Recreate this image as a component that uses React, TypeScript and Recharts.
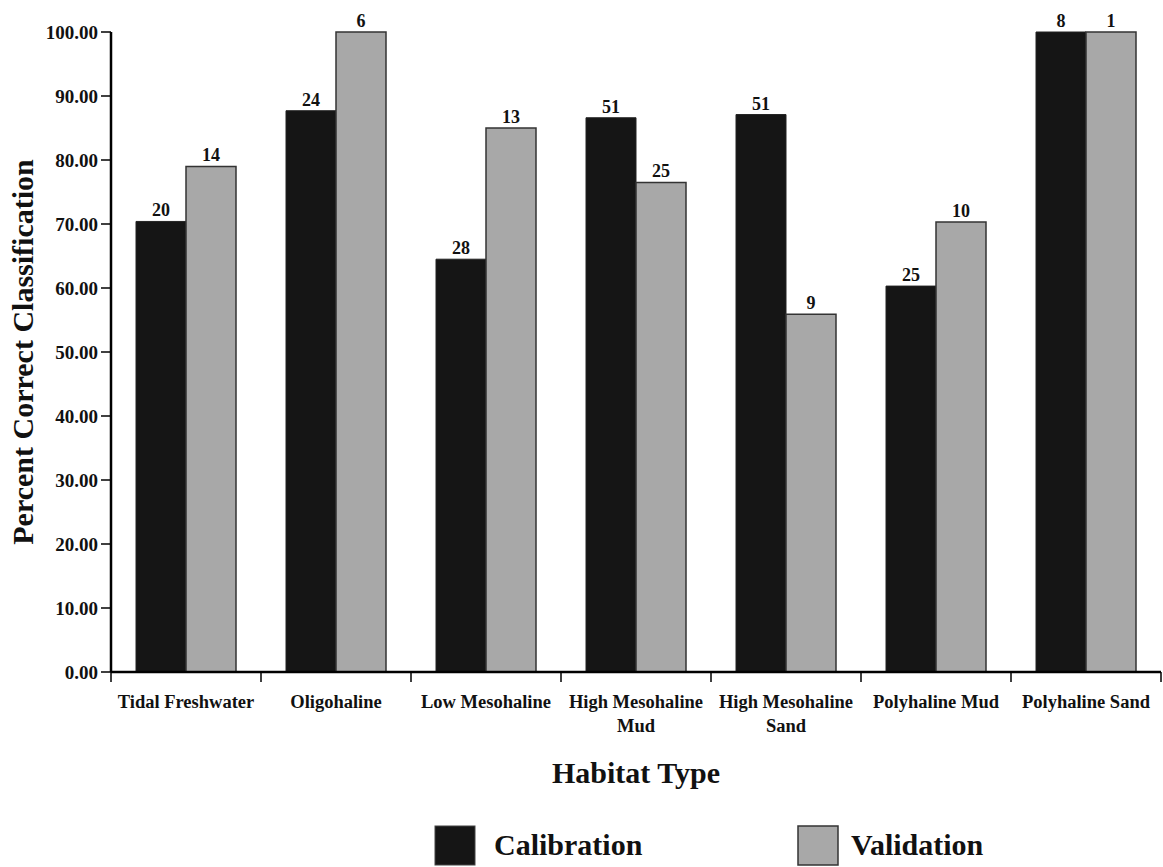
import React from "react";
import {
  BarChart,
  Bar,
  XAxis,
  YAxis,
  Legend,
  LabelList,
  Label,
} from "recharts";

// habitat categories ("\n" marks where the tick label wraps)
const categories = [
  "Tidal Freshwater",
  "Oligohaline",
  "Low Mesohaline",
  "High Mesohaline\nMud",
  "High Mesohaline\nSand",
  "Polyhaline Mud",
  "Polyhaline Sand",
];

// percent correct classification
const calibration = [70.4, 87.7, 64.5, 86.6, 87.1, 60.3, 100];
const validation = [79.0, 100, 85.0, 76.5, 55.9, 70.3, 100];

// sample sizes printed above the bars
const calibrationN = [20, 24, 28, 51, 51, 25, 8];
const validationN = [14, 6, 13, 25, 9, 10, 1];

const yTicks = [0, 10, 20, 30, 40, 50, 60, 70, 80, 90, 100];

const data = categories.map((name, i) => ({
  name,
  calibration: calibration[i],
  validation: validation[i],
  calN: calibrationN[i],
  valN: validationN[i],
}));

const FONT = "Liberation Serif, Times New Roman, Times, serif";
const CHART_W = 1163;
const CHART_H = 867;
const Y_AXIS_W = 111;
const MARGIN_R = 2;
const BAND = (CHART_W - Y_AXIS_W - MARGIN_R) / categories.length;

const CAL_FILL = "#151515";
const VAL_FILL = "#a8a8a8";

const textStyle = { fontFamily: FONT, fontWeight: 700 };

const CategoryTick = (props: any) => {
  const { x, y, payload, index } = props;
  const lines = String(payload.value).split("\n");
  const top = y - 10;
  return (
    <g>
      <line x1={x - BAND / 2} y1={top} x2={x - BAND / 2} y2={y} stroke="#000" strokeWidth={1.5} />
      {index === categories.length - 1 && (
        <line x1={x + BAND / 2} y1={top} x2={x + BAND / 2} y2={y} stroke="#000" strokeWidth={1.5} />
      )}
      <text x={x} y={y + 26} textAnchor="middle" style={textStyle} fontSize={18.5} fill="#111">
        {lines.map((l, i) => (
          <tspan key={i} x={x} dy={i === 0 ? 0 : 24}>
            {l}
          </tspan>
        ))}
      </text>
    </g>
  );
};

const YTitle = (props: any) => {
  const { viewBox } = props;
  const cx = viewBox.x + 33;
  const cy = viewBox.y + viewBox.height / 2;
  return (
    <text
      x={cx}
      y={cy}
      transform={`rotate(-90, ${cx}, ${cy})`}
      textAnchor="middle"
      style={textStyle}
      fontSize={30}
      fill="#111"
    >
      Percent Correct Classification
    </text>
  );
};

const XTitle = (props: any) => {
  const { viewBox } = props;
  const cx = viewBox.x + viewBox.width / 2;
  return (
    <text x={cx} y={783} textAnchor="middle" style={textStyle} fontSize={30} fill="#111">
      Habitat Type
    </text>
  );
};

const LegendBox = () => (
  <svg width={CHART_W - MARGIN_R} height={67} style={{ display: "block" }}>
    <rect x={435} y={26} width={40} height={39} fill={CAL_FILL} stroke="#444" strokeWidth={1} />
    <text x={494} y={55} style={textStyle} fontSize={30} fill="#111">
      Calibration
    </text>
    <rect x={798} y={26} width={40} height={39} fill={VAL_FILL} stroke="#333" strokeWidth={1.5} />
    <text x={851} y={55} style={textStyle} fontSize={30} fill="#111">
      Validation
    </text>
  </svg>
);

export default function App() {
  return (
    <div style={{ width: CHART_W, height: CHART_H, background: "#fff" }}>
      <style>{`body{margin:0;background:#fff}`}</style>
      <BarChart
        width={CHART_W}
        height={CHART_H}
        data={data}
        margin={{ top: 32, right: MARGIN_R, left: 0, bottom: 0 }}
        barCategoryGap={25}
        barGap={0}
        style={{ fontFamily: FONT }}
      >
        <XAxis
          dataKey="name"
          height={128}
          interval={0}
          tickLine={false}
          tickSize={10}
          tickMargin={0}
          tick={<CategoryTick />}
          axisLine={{ stroke: "#000", strokeWidth: 2.5 }}
        >
          <Label content={<XTitle />} />
        </XAxis>
        <YAxis
          width={Y_AXIS_W}
          domain={[0, 100]}
          ticks={yTicks}
          interval={0}
          tickSize={10}
          tickMargin={3}
          tickFormatter={(v: number) => v.toFixed(2)}
          tick={{ ...textStyle, fontSize: 19, fill: "#111" }}
          tickLine={{ stroke: "#000", strokeWidth: 1.5 }}
          axisLine={{ stroke: "#000", strokeWidth: 2.5 }}
        >
          <Label content={<YTitle />} />
        </YAxis>
        <Legend verticalAlign="bottom" height={67} content={<LegendBox />} />
        <Bar
          dataKey="calibration"
          fill={CAL_FILL}
          stroke="#222"
          strokeWidth={1}
          isAnimationActive={false}
        >
          <LabelList
            dataKey="calN"
            position="top"
            offset={5}
            style={textStyle}
            fontSize={18}
            fill="#111"
          />
        </Bar>
        <Bar
          dataKey="validation"
          fill={VAL_FILL}
          stroke="#333"
          strokeWidth={1.5}
          isAnimationActive={false}
        >
          <LabelList
            dataKey="valN"
            position="top"
            offset={5}
            style={textStyle}
            fontSize={18}
            fill="#111"
          />
        </Bar>
      </BarChart>
    </div>
  );
}
